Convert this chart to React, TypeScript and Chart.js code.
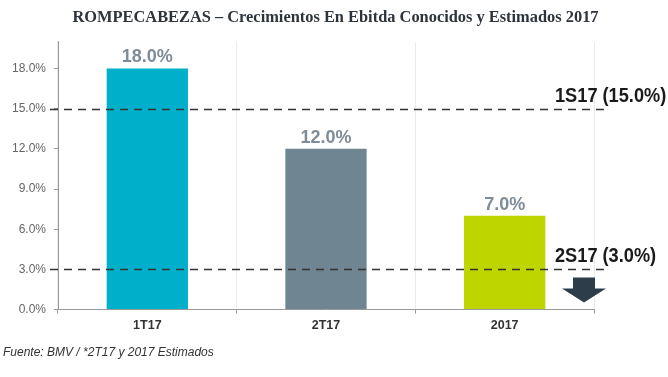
import React, { useEffect, useRef } from "react";
import { Chart, registerables } from "chart.js";

Chart.register(...registerables);

const categories = ["1T17", "2T17", "2017"];
const values = [18, 12, 7];
const valueLabels = ["18.0%", "12.0%", "7.0%"];
const barColors = ["#00B0CA", "#6F8591", "#BFD500"];
const yTicks = [0, 3, 6, 9, 12, 15, 18];
const refValues = [15, 3];
const refLabels = ["1S17 (15.0%)", "2S17 (3.0%)"];
const titleText = "ROMPECABEZAS – Crecimientos En Ebitda Conocidos y Estimados 2017";
const footerText = "Fuente: BMV / *2T17 y 2017 Estimados";

const overlayPlugin = {
  id: "overlay",
  afterDatasetsDraw(chart: any) {
    const { ctx, chartArea, scales } = chart;
    const meta = chart.getDatasetMeta(0);
    ctx.save();
    // value labels
    ctx.font = "bold 18px 'Liberation Sans', Arial, sans-serif";
    ctx.fillStyle = "#7E8C98";
    ctx.textAlign = "center";
    ctx.textBaseline = "alphabetic";
    meta.data.forEach((bar: any, i: number) => {
      ctx.fillText(valueLabels[i], bar.x, bar.y - 6);
    });
    // reference lines
    const y = scales.y;
    ctx.strokeStyle = "#333";
    ctx.lineWidth = 1.5;
    ctx.setLineDash([8, 6]);
    refValues.forEach((v, i) => {
      const py = Math.round(y.getPixelForValue(v)) + 0.5;
      ctx.beginPath();
      ctx.moveTo(chartArea.left - 8, py);
      ctx.lineTo(chartArea.right + (i === 0 ? 13 : 10), py);
      ctx.stroke();
    });
    ctx.setLineDash([]);
    ctx.font = "bold 20px 'Liberation Sans', Arial, sans-serif";
    ctx.fillStyle = "#1A1A1A";
    ctx.textAlign = "left";
    refValues.forEach((v, i) => {
      const py = y.getPixelForValue(v);
      ctx.save();
      ctx.translate(chartArea.right - 39, py - 7);
      ctx.scale(0.91, 1);
      ctx.fillText(refLabels[i], 0, 0);
      ctx.restore();
    });
    // down arrow under the 2S17 line
    const ay = y.getPixelForValue(refValues[1]);
    const cx = chartArea.right - 10;
    ctx.fillStyle = "#2D3E4A";
    ctx.beginPath();
    ctx.moveTo(cx - 11, ay + 8);
    ctx.lineTo(cx + 11, ay + 8);
    ctx.lineTo(cx + 11, ay + 19);
    ctx.lineTo(cx + 22, ay + 19);
    ctx.lineTo(cx, ay + 33);
    ctx.lineTo(cx - 22, ay + 19);
    ctx.lineTo(cx - 11, ay + 19);
    ctx.closePath();
    ctx.fill();
    ctx.restore();
  },
};

export default function App() {
  const ref = useRef<HTMLCanvasElement | null>(null);
  useEffect(() => {
    if (!ref.current) return;
    const chart = new Chart(ref.current, {
      type: "bar",
      data: {
        labels: categories,
        datasets: [
          {
            data: values,
            backgroundColor: barColors,
            borderWidth: 0,
            categoryPercentage: 1,
            barPercentage: 0.455,
          },
        ],
      },
      options: {
        responsive: false,
        animation: false,
        layout: { padding: { left: 3, right: 0, top: 0, bottom: 0 } },
        plugins: {
          legend: { display: false },
          tooltip: { enabled: false },
          title: {
            display: true,
            text: titleText,
            color: "#2E343C",
            font: { family: "'Liberation Serif', 'DejaVu Serif', serif", size: 16.4, weight: "bold" },
            padding: { top: 8, bottom: 14 },
          },
          subtitle: {
            display: true,
            position: "bottom",
            align: "start",
            text: footerText,
            color: "#333",
            font: { family: "'Liberation Sans', Arial, sans-serif", size: 12, style: "italic" },
            padding: { top: 9, bottom: 17 },
          },
        },
        scales: {
          x: {
            grid: {
              display: true,
              offset: true,
              color: "#EBEBEB",
              tickColor: "#999",
              tickLength: 4,
              drawOnChartArea: true,
            },
            border: { color: "#999" },
            ticks: {
              color: "#333",
              padding: 4,
              font: { family: "'Liberation Sans', Arial, sans-serif", size: 12.5, weight: "bold" },
            },
          },
          y: {
            min: 0,
            max: 20,
            afterFit(scale: any) {
              scale.width = 55;
            },
            afterBuildTicks(scale: any) {
              scale.ticks = yTicks.map((v) => ({ value: v }));
            },
            grid: { display: true, drawOnChartArea: false, tickLength: 4, color: "#999" },
            border: { color: "#999" },
            ticks: {
              color: "#666",
              padding: 8,
              font: { family: "'Liberation Sans', Arial, sans-serif", size: 12 },
              callback: (v: any) => Number(v).toFixed(1) + "%",
            },
          },
          yRight: {
            position: "right",
            min: 0,
            max: 20,
            afterFit(scale: any) {
              scale.width = 74;
            },
            grid: { display: false },
            border: { display: false },
            ticks: { display: false },
          },
        },
      },
      plugins: [overlayPlugin],
    });
    return () => chart.destroy();
  }, []);
  return (
    <div style={{ position: "fixed", left: 0, top: 0, width: 668, height: 377, background: "#fff" }}>
      <canvas ref={ref} width={668} height={377} style={{ display: "block" }} />
    </div>
  );
}
